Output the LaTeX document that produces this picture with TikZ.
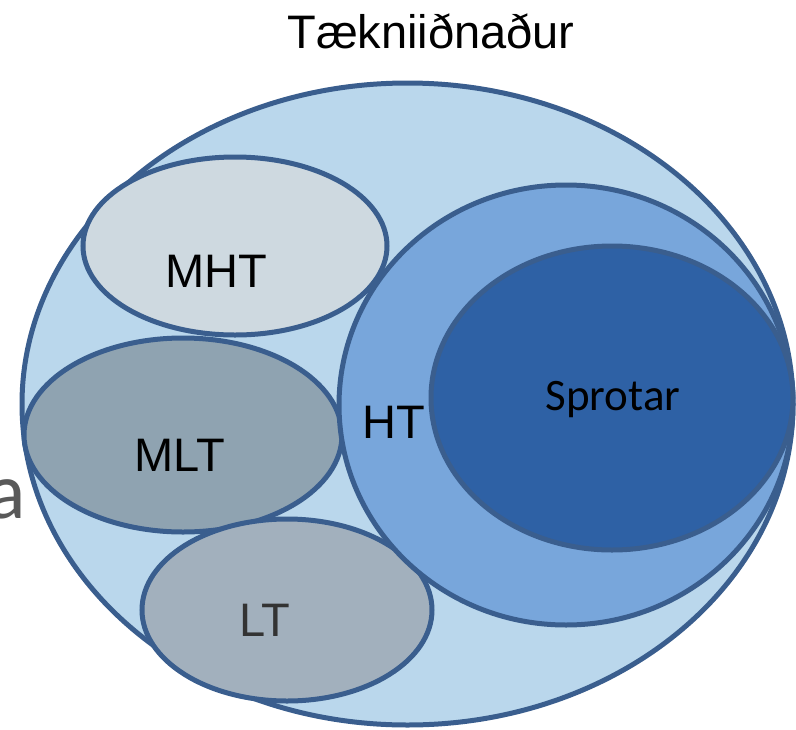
\documentclass[tikz,border=0pt]{standalone}
\usepackage{fontspec}
\setmainfont{Liberation Sans}
\newfontfamily\calibrifont{Carlito}
\definecolor{edgeBlue}{HTML}{3A5E8E}
\definecolor{tiBlue}{HTML}{BAD7EC}
\definecolor{htBlue}{HTML}{78A6DB}
\definecolor{spBlue}{HTML}{2E61A5}
\definecolor{mhtGray}{HTML}{CED9E0}
\definecolor{mltGray}{HTML}{8FA3B1}
\definecolor{ltGray}{HTML}{A2B0BD}
\definecolor{fragGray}{HTML}{595959}
\tikzset{
  blob/.style={draw=edgeBlue, line width=5pt},
  lbl/.style={inner sep=0pt, font=\fontsize{47}{56}\selectfont}
}

\begin{document}
\begin{tikzpicture}[x=1pt,y=-1pt]
\def\ellipseTI{(407.5,404) ellipse (385.5 and 321)}
\def\ellipseMHT{(235,246) ellipse (152 and 89)}
\def\ellipseMLT{(183,435) ellipse (159 and 97)}
\def\ellipseLT{(287,610) ellipse (145 and 91)}
\def\ellipseHT{(566,405) ellipse (227 and 220)}
\def\ellipseSP{(612,398) ellipse (181 and 152)}
\useasboundingbox (0,0) rectangle (796,729);
\node[inner sep=0pt, anchor=base east, text=fragGray,
  font=\calibrifont\fontsize{80}{90}\selectfont] (frag) at (26,518) {a};
\filldraw[blob, fill=tiBlue] \ellipseTI;
\filldraw[blob, fill=mhtGray] \ellipseMHT;
\filldraw[blob, fill=mltGray] \ellipseMLT;
\filldraw[blob, fill=ltGray] \ellipseLT;
\filldraw[blob, fill=htBlue] \ellipseHT;
\filldraw[blob, fill=spBlue] \ellipseSP;
\node[lbl] (title) at (431,31) {Tækniiðnaður};
\node[lbl] (mht) at (216,271) {MHT};
\node[lbl] (mlt) at (180,455) {MLT};
\node[lbl, text=black!80] (lt) at (265,620) {LT};
\node[lbl] (ht) at (394,422) {HT};
\node[inner sep=0pt, font=\calibrifont\fontsize{45}{54}\selectfont] (sp) at (613,400) {Sprotar};
\end{tikzpicture}
\end{document}
